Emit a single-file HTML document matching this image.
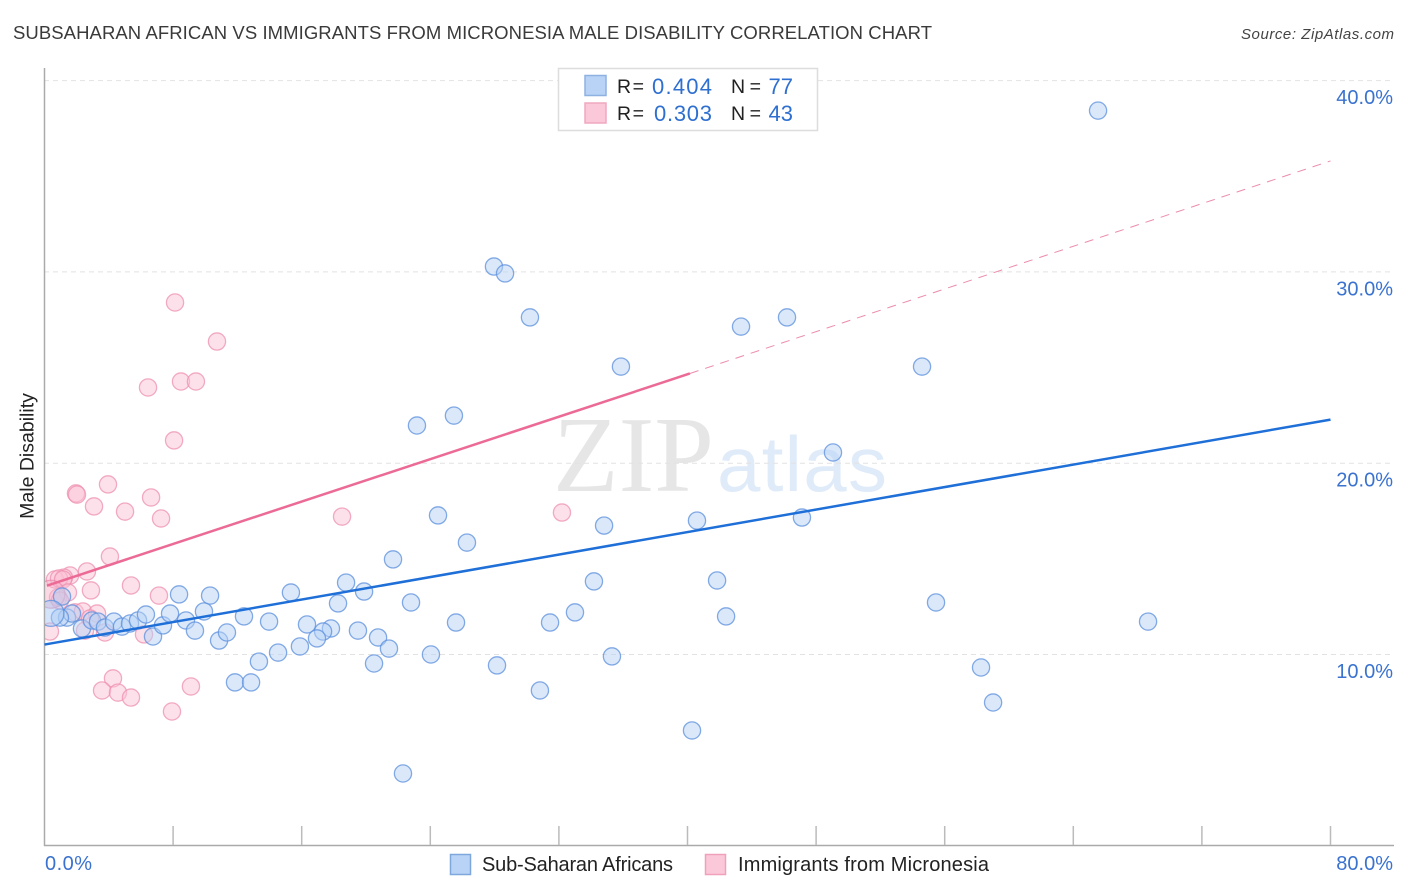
<!DOCTYPE html>
<html>
<head>
<meta charset="utf-8">
<title>Subsaharan African vs Immigrants from Micronesia Male Disability Correlation Chart</title>
<style>
html,body{margin:0;padding:0;background:#fff;width:1406px;height:892px;overflow:hidden}
svg{display:block}
text{font-family:"Liberation Sans",sans-serif}
</style>
</head>
<body>
<svg id="chart" width="1406" height="892" viewBox="0 0 1406 892" xmlns="http://www.w3.org/2000/svg">
  <defs><clipPath id="plot-clip"><rect x="45" y="68" width="1349" height="777"/></clipPath></defs>
  <text x="13" y="39" font-size="18.5" fill="#3a3a3a" textLength="919" lengthAdjust="spacing">SUBSAHARAN AFRICAN VS IMMIGRANTS FROM MICRONESIA MALE DISABILITY CORRELATION CHART</text>
  <text x="1394" y="39" font-size="15" font-style="italic" fill="#444" text-anchor="end" textLength="153" lengthAdjust="spacing">Source: ZipAtlas.com</text>
  <g>
    <text x="553" y="491" font-size="108" fill="#e6e6e6" style="font-family:'Liberation Serif',serif" textLength="161" lengthAdjust="spacingAndGlyphs">ZIP</text>
    <text x="717" y="491" font-size="78" fill="#e0ebfa" textLength="170" lengthAdjust="spacing">atlas</text>
  </g>
  <g id="grid"></g>
  <g id="axes"></g>
  <g id="points" clip-path="url(#plot-clip)"></g>
  <g id="trends"></g>
  <g id="labels"></g>
  <text transform="translate(33.500,456) rotate(-90)" font-size="19.500" fill="#222" text-anchor="middle">Male Disability</text>
  <g>
    <rect x="558.500" y="68.500" width="259" height="62" fill="#fff" stroke="#ddd" stroke-width="1.500"/>
    <rect x="585" y="75.500" width="21" height="20" fill="#b8d3f6" stroke="#8db2e2" stroke-width="1.500"/>
    <rect x="585" y="103" width="21" height="20" fill="#fac8d9" stroke="#f0a8c0" stroke-width="1.500"/>
    <text x="617" y="93" font-size="19.500" fill="#222" textLength="27" lengthAdjust="spacing">R =</text>
    <text x="652" y="94" font-size="22" fill="#2e6fd0" textLength="60" lengthAdjust="spacing">0.404</text>
    <text x="731" y="93" font-size="19.500" fill="#222" textLength="30" lengthAdjust="spacing">N =</text>
    <text x="793" y="94" font-size="22" fill="#2e6fd0" text-anchor="end">77</text>
    <text x="617" y="120" font-size="19.500" fill="#222" textLength="27" lengthAdjust="spacing">R =</text>
    <text x="654" y="121" font-size="22" fill="#2e6fd0" textLength="58" lengthAdjust="spacing">0.303</text>
    <text x="731" y="120" font-size="19.500" fill="#222" textLength="30" lengthAdjust="spacing">N =</text>
    <text x="793" y="121" font-size="22" fill="#2e6fd0" text-anchor="end">43</text>
  </g>
  <g>
    <rect x="450.500" y="854.500" width="20" height="20" fill="#b8d3f6" stroke="#7ea8dc" stroke-width="1.500"/>
    <text x="482" y="871" font-size="20" fill="#222" textLength="191" lengthAdjust="spacing">Sub-Saharan Africans</text>
    <rect x="705.500" y="854.500" width="20" height="20" fill="#fac8d9" stroke="#f0a0bc" stroke-width="1.500"/>
    <text x="738" y="871" font-size="20" fill="#222" textLength="251" lengthAdjust="spacing">Immigrants from Micronesia</text>
  </g>
</svg>
<script>
const yTicks = [10, 20, 30, 40];
const yTickLabels = ["10.0%", "20.0%", "30.0%", "40.0%"];
const xTicks = [0, 8, 16, 24, 32, 40, 48, 56, 64, 72, 80];
const xEndLabels = ["0.0%", "80.0%"];

const blueX = [65.54,27.96,28.65,30.20,43.33,46.19,35.86,54.59,23.17,25.47,49.05,24.48,40.59,47.12,34.81,26.28,21.68,41.84,34.18,18.76,19.88,15.33,8.37,10.30,18.26,22.80,55.46,33.00,42.40,68.65,25.60,31.45,12.41,13.97,16.33,17.82,17.33,16.95,19.50,20.75,21.43,15.89,14.53,13.34,24.04,35.30,20.50,28.15,58.26,11.85,12.85,30.82,59.01,40.28,22.30,1.09,1.40,1.71,2.33,2.95,3.33,3.76,4.32,4.82,5.32,5.82,6.31,6.75,7.37,7.81,8.80,9.36,9.92,10.86,11.35,0.96];
const blueY = [38.43,30.28,29.92,27.62,27.14,27.62,25.05,25.05,21.97,22.49,20.56,17.27,17.00,17.16,16.74,15.85,14.97,13.87,13.82,13.76,13.29,13.24,13.14,13.08,12.67,12.72,12.72,12.20,11.99,11.72,11.67,11.67,11.99,11.72,11.57,11.36,11.20,10.84,11.25,10.89,10.31,10.42,10.10,9.63,10.00,9.90,9.53,9.43,9.32,8.54,8.54,8.12,7.49,6.03,3.78,13.03,11.93,12.14,11.36,11.78,11.72,11.41,11.72,11.46,11.62,11.78,12.09,10.94,11.52,12.14,11.78,11.25,12.25,10.73,11.15,11.93];
const blueLargeX = [0.40];
const blueLargeY = [12.15];

const pinkX = [8.12,10.73,6.44,8.49,9.42,8.06,3.95,1.96,2.02,3.08,5.01,6.63,7.25,18.51,32.19,4.07,2.64,1.59,1.21,0.65,0.90,1.15,5.38,2.89,1.46,7.12,0.84,0.96,1.90,2.39,3.27,2.83,2.52,3.76,6.19,0.34,4.26,3.58,4.57,5.38,9.11,7.93];
const pinkY = [28.40,26.36,23.96,24.27,24.27,21.19,18.89,18.42,18.36,17.74,17.47,18.21,17.11,17.21,17.42,15.12,14.34,14.13,14.02,13.92,13.97,13.92,13.61,13.35,13.24,13.08,12.98,12.82,12.20,12.25,12.14,11.88,11.25,11.15,11.05,11.20,8.75,8.12,8.01,7.75,8.33,7.02];
const pinkLargeX = [0.40];
const pinkLargeY = [13.15];

const blueTrendX = [0, 80];
const blueTrendY = [10.52, 22.28];
const pinkSolidX = [0.15, 40.15];
const pinkSolidY = [13.6, 24.69];
const pinkDashX = [40.15, 80];
const pinkDashY = [24.69, 35.8];

const NS = 'http://www.w3.org/2000/svg';
function xPos(v){ return 44.5 + v * 16.075; }
function yPos(v){ return 654.5 - (v - 10) * 19.13; }
function make(tag, parentId, attrs){
  const el = document.createElementNS(NS, tag);
  for (const k in attrs) el.setAttribute(k, attrs[k]);
  document.getElementById(parentId).appendChild(el);
  return el;
}

yTicks.forEach(function(t){
  const el = make('line', 'grid', {x1:44, x2:1394, y1:yPos(t), y2:yPos(t), stroke:'#e2e2e2', 'stroke-width':1, 'stroke-dasharray':'5 4'});
  
  
});

const yAxisLine = make('line', 'axes', {x1:44.5, x2:44.5, y1:68, y2:846, stroke:'#aaa', 'stroke-width':1.5});


const xAxisLine = make('line', 'axes', {x1:44, x2:1394, y1:845.5, y2:845.5, stroke:'#aaa', 'stroke-width':1.5});


xTicks.slice(1).forEach(function(t){
  const el = make('line', 'axes', {x1:xPos(t), x2:xPos(t), y1:826, y2:845, stroke:'#bbb', 'stroke-width':1.5});
  
  
});

function drawPoints(xs, ys, r, fill, stroke, name){
  xs.forEach(function(x, i){
    const c = make('circle', 'points', {cx:xPos(x), cy:yPos(ys[i]), r:r, fill:fill, 'fill-opacity':0.5, stroke:stroke, 'stroke-opacity':0.75, 'stroke-width':1.3});
    
    
  });
}
drawPoints(pinkX, pinkY, 8.6, '#fbc4d6', '#ee90b0', 'point-micronesia');
drawPoints(pinkLargeX, pinkLargeY, 14, '#f5b4cc', '#e88aac', 'point-micronesia-large');
drawPoints(blueX, blueY, 8.6, '#b6d2f6', '#5b8fdc', 'point-sub-saharan');
drawPoints(blueLargeX, blueLargeY, 13, '#a8c8f4', '#5b8fdc', 'point-sub-saharan-large');

const trendBlue = make('line', 'trends', {x1:xPos(blueTrendX[0]), y1:yPos(blueTrendY[0]), x2:xPos(blueTrendX[1]), y2:yPos(blueTrendY[1]), stroke:'#1f6fd8', 'stroke-width':2.5});


const trendPink = make('line', 'trends', {x1:xPos(pinkSolidX[0]), y1:yPos(pinkSolidY[0]), x2:xPos(pinkSolidX[1]), y2:yPos(pinkSolidY[1]), stroke:'#ec6a96', 'stroke-width':2.5});


const trendPinkDash = make('line', 'trends', {x1:xPos(pinkDashX[0]), y1:yPos(pinkDashY[0]), x2:xPos(pinkDashX[1]), y2:yPos(pinkDashY[1]), stroke:'#ec8cab', 'stroke-width':1, 'stroke-dasharray':'9 7'});



yTicks.forEach(function(t, i){
  const el = make('text', 'labels', {x:1393, y:yPos(t) + 23.5, 'font-size':20, fill:'#3a72cf', 'text-anchor':'end'});
  el.textContent = yTickLabels[i];
  
  
});
const xStart = make('text', 'labels', {x:45, y:870, 'font-size':20, fill:'#3a72cf', textLength:47, lengthAdjust:'spacing'});
xStart.textContent = xEndLabels[0];


const xEnd = make('text', 'labels', {x:1393, y:870, 'font-size':20, fill:'#3a72cf', 'text-anchor':'end'});
xEnd.textContent = xEndLabels[1];


</script>
</body>
</html>
